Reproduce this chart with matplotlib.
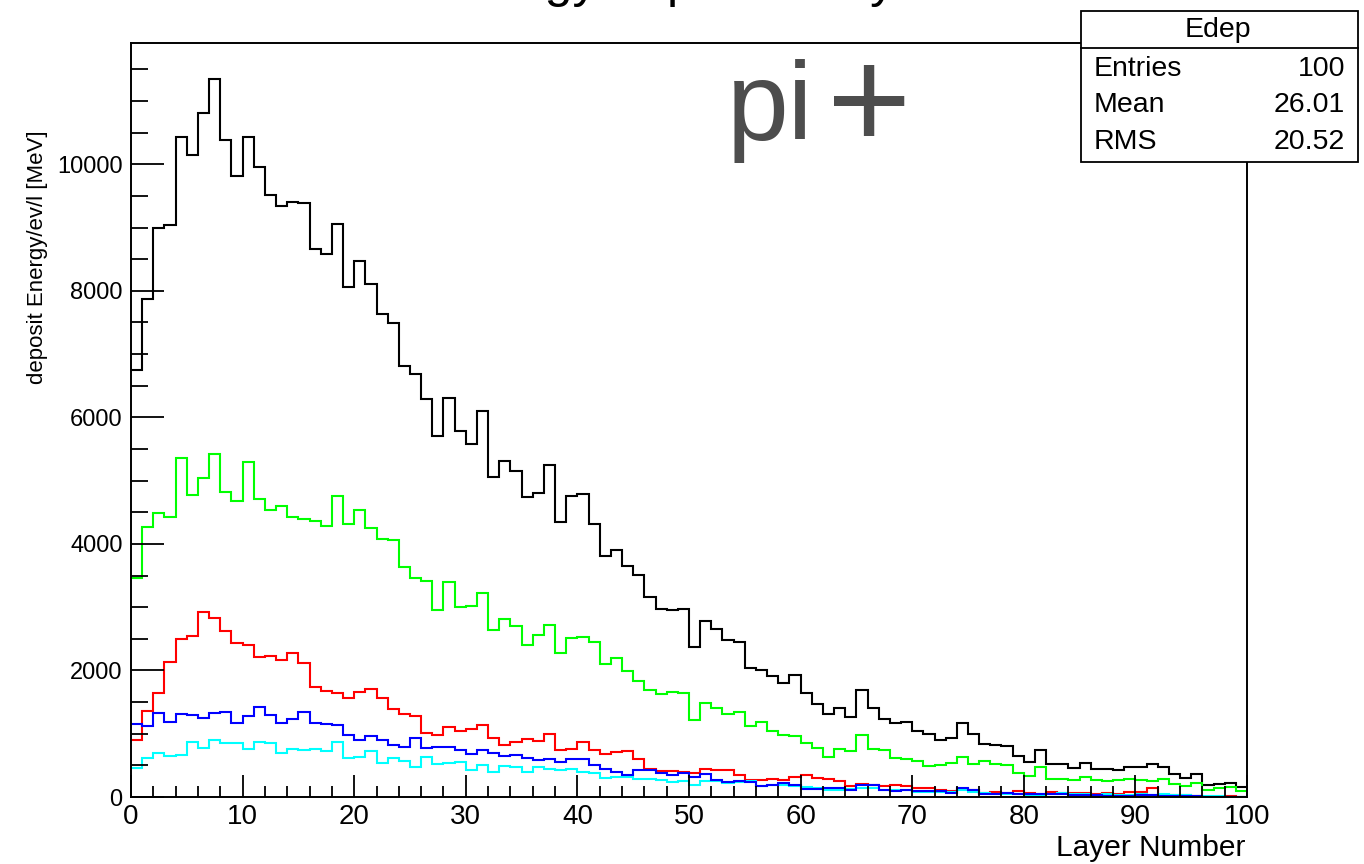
import numpy as np
import matplotlib
matplotlib.use("Agg")
import matplotlib.pyplot as plt
from matplotlib.patches import Rectangle
from matplotlib.lines import Line2D
from matplotlib.ticker import MultipleLocator

plt.rcParams['font.family'] = ['Liberation Sans', 'DejaVu Sans']

# ---------------- data (bin contents, layers 0..99) ----------------
layer_edges = np.arange(0, 101)

edep_total = [6744, 7872, 8997, 9039, 10432, 10147, 10807, 11350, 10390, 9810,
              10437, 9962, 9514, 9345, 9408, 9392, 8664, 8575, 9060, 8062,
              8464, 8105, 7641, 7493, 6818, 6680, 6285, 5699, 6300, 5789,
              5577, 6100, 5060, 5308, 5150, 4749, 4812, 5240, 4353, 4754,
              4797, 4311, 3810, 3899, 3646, 3514, 3166, 2971, 2960, 2976,
              2375, 2781, 2654, 2480, 2443, 2035, 2010, 1905, 1805, 1931,
              1636, 1467, 1309, 1404, 1266, 1689, 1404, 1230, 1171, 1187,
              1045, 992, 897, 939, 1166, 992, 834, 818, 802, 649,
              559, 739, 517, 528, 464, 533, 448, 443, 422, 480,
              480, 528, 475, 369, 295, 369, 185, 211, 227, 164]

edep_green = [3456, 4263, 4491, 4422, 5351, 4781, 5039, 5414, 4828, 4675,
              5292, 4707, 4538, 4607, 4422, 4390, 4364, 4290, 4754, 4317,
              4538, 4258, 4073, 4063, 3641, 3462, 3419, 2960, 3403, 3008,
              3013, 3224, 2633, 2807, 2707, 2406, 2554, 2712, 2274, 2517,
              2522, 2443, 2110, 2190, 1984, 1831, 1699, 1630, 1662, 1636,
              1224, 1483, 1414, 1309, 1351, 1124, 1192, 1045, 977, 966,
              855, 776, 638, 755, 733, 986, 765, 739, 622, 597,
              565, 486, 502, 538, 638, 517, 565, 522, 502, 385,
              327, 480, 280, 285, 269, 317, 274, 253, 269, 290,
              264, 253, 285, 201, 174, 227, 116, 148, 158, 90]

edep_red = [902, 1366, 1641, 2137, 2496, 2538, 2918, 2834, 2628, 2427,
            2406, 2205, 2227, 2169, 2274, 2116, 1731, 1683, 1636, 1562,
            1662, 1704, 1572, 1398, 1309, 1282, 1008, 981, 1108, 1045,
            1076, 1135, 939, 823, 871, 923, 887, 1002, 739, 755,
            876, 739, 676, 707, 733, 600, 450, 412, 405, 390,
            380, 435, 425, 428, 355, 275, 269, 290, 269, 322,
            343, 306, 285, 250, 174, 201, 185, 169, 185, 169,
            142, 148, 111, 95, 132, 116, 69, 84, 69, 95,
            58, 50, 79, 69, 69, 58, 42, 58, 42, 74,
            84, 148, 26, 26, 32, 16, 5, 5, 16, 5]

edep_blue = [1161, 1124, 1325, 1192, 1309, 1293, 1255, 1325, 1351, 1171,
             1287, 1430, 1303, 1171, 1240, 1346, 1166, 1150, 1134, 981,
             897, 971, 897, 818, 786, 939, 781, 792, 792, 739,
             686, 739, 702, 649, 660, 623, 591, 602, 559, 607,
             607, 501, 449, 401, 343, 425, 422, 375, 355, 385,
             310, 359, 275, 238, 255, 230, 174, 185, 222, 185,
             132, 121, 142, 140, 106, 195, 185, 106, 95, 111,
             95, 95, 95, 69, 142, 106, 42, 42, 63, 53,
             42, 42, 42, 53, 32, 26, 26, 16, 11, 21,
             26, 26, 16, 11, 16, 11, 5, 0, 5, 0]

edep_cyan = [464, 622, 697, 654, 670, 876, 781, 902, 855, 850,
             760, 876, 850, 697, 760, 744, 760, 728, 876, 617,
             638, 723, 543, 622, 570, 480, 638, 517, 538, 559,
             422, 512, 401, 485, 475, 401, 480, 438, 427, 438,
             401, 375, 301, 317, 317, 285, 290, 275, 235, 250,
             195, 250, 260, 227, 240, 245, 174, 190, 185, 179,
             158, 148, 111, 115, 121, 142, 137, 116, 106, 111,
             84, 79, 84, 74, 106, 84, 58, 42, 53, 53,
             32, 32, 42, 58, 53, 42, 32, 42, 26, 32,
             42, 32, 42, 26, 32, 16, 11, 11, 5, 5]

x_ticks = [0, 10, 20, 30, 40, 50, 60, 70, 80, 90, 100]
y_ticks = [0, 2000, 4000, 6000, 8000, 10000]
stats_labels = ["Entries", "Mean", "RMS"]
stats_values = ["100", "26.01", "20.52"]

# ---------------- figure ----------------
W, H = 1364, 864
fig = plt.figure(figsize=(W / 100, H / 100), dpi=100)

def fx(px):
    return px / W

def fy(py):
    return 1 - py / H

ax = fig.add_axes([fx(131), fy(797), fx(1247) - fx(131), fy(43) - fy(797)])

series = [(edep_total, 'black'), (edep_green, '#00ff00'), (edep_red, '#ff0000'),
          (edep_cyan, '#00ffff'), (edep_blue, '#0000ff')]
for vals, col in series:
    ax.stairs(vals, layer_edges, baseline=None, color=col, linewidth=1.5)

ax.set_xlim(0, 100)
ax.set_ylim(0, 1.05 * max(edep_total))
ax.set_xticks(x_ticks)
ax.set_yticks(y_ticks)
ax.xaxis.set_minor_locator(MultipleLocator(2))
ax.yaxis.set_minor_locator(MultipleLocator(500))

for s in ax.spines.values():
    s.set_linewidth(1.4)

ax.tick_params(axis='y', which='major', direction='in', length=24, width=1.3,
               labelsize=17, pad=6, right=False)
ax.tick_params(axis='y', which='minor', direction='in', length=12, width=1.3, right=False)
ax.tick_params(axis='x', which='major', direction='in', length=16, width=1.3,
               labelsize=20, pad=5, top=False)
ax.tick_params(axis='x', which='minor', direction='in', length=8, width=1.3, top=False)

# axis titles
fig.text(fx(38), fy(130), 'deposit Energy/ev/l [MeV]', rotation=90,
         ha='center', va='top', fontsize=16)
fig.text(fx(1245), fy(848), 'Layer Number', ha='right', va='center', fontsize=21.5)

# histogram title (mostly above the canvas, as in the original)
fig.text(fx(689), fy(-3), 'Energy deposit / Layer', ha='center', va='baseline',
         fontsize=36)

# particle label
fig.text(fx(727), fy(140), 'pi', ha='left', va='baseline', fontsize=80,
         color='#4d4d4d')
fig.text(fx(869), fy(112), '+', ha='center', va='center', fontsize=104,
         color='#4d4d4d')

# stats box
bx0, by0, bx1, by1 = 1081, 11, 1358, 162
fig.add_artist(Rectangle((fx(bx0), fy(by1)), fx(bx1) - fx(bx0), fy(by0) - fy(by1),
                         transform=fig.transFigure, facecolor='white',
                         edgecolor='black', linewidth=1.3, zorder=5))
fig.add_artist(Line2D([fx(bx0), fx(bx1)], [fy(48), fy(48)], transform=fig.transFigure,
                      color='black', linewidth=1.3, zorder=6))
fig.text(fx(1218), fy(30), 'Edep', ha='center', va='center', fontsize=20.5, zorder=7)
for i, (lab, val) in enumerate(zip(stats_labels, stats_values)):
    yy = [69, 105, 142][i]
    fig.text(fx(1094), fy(yy), lab, ha='left', va='center', fontsize=20.5, zorder=7)
    fig.text(fx(1345), fy(yy), val, ha='right', va='center', fontsize=20.5, zorder=7)

fig.savefig('out.png', dpi=100)
